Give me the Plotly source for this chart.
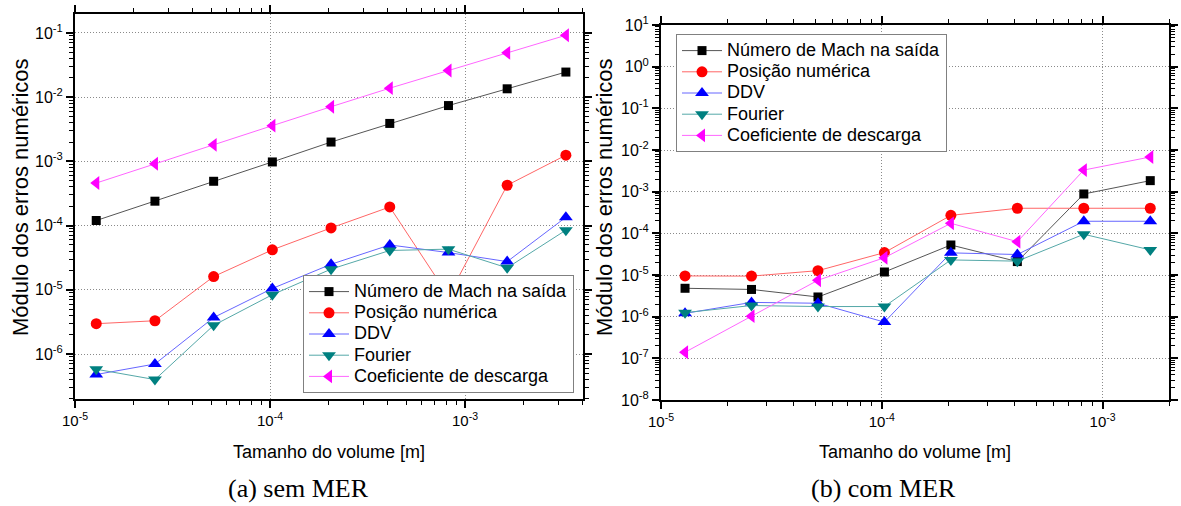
import plotly.graph_objects as go

# Tamanho do volume [m]
x_sem = [1.285e-5, 2.57e-5, 5.14e-5, 1.028e-4, 2.056e-4, 4.1125e-4, 8.225e-4, 1.645e-3, 3.29e-3]
x_com = [1.285e-5, 2.57e-5, 5.14e-5, 1.028e-4, 2.056e-4, 4.1125e-4, 8.225e-4, 1.645e-3]

# (a) sem MER
mach_sem = [1.2e-4, 2.4e-4, 4.9e-4, 9.8e-4, 2.0e-3, 3.9e-3, 7.4e-3, 1.35e-2, 2.46e-2]
pos_sem = [2.97e-6, 3.3e-6, 1.61e-5, 4.2e-5, 9.2e-5, 1.95e-4, 8.0e-6, 4.25e-4, 1.25e-3]
ddv_sem = [4.8e-7, 7.0e-7, 3.7e-6, 1.05e-5, 2.5e-5, 5.0e-5, 3.8e-5, 2.75e-5, 1.35e-4]
fourier_sem = [5.8e-7, 4.0e-7, 2.8e-6, 8.4e-6, 2.1e-5, 4.1e-5, 4.3e-5, 2.2e-5, 8.5e-5]
coef_sem = [4.6e-4, 9.2e-4, 1.81e-3, 3.6e-3, 7.1e-3, 1.38e-2, 2.6e-2, 4.9e-2, 9.2e-2]

# (b) com MER
mach_com = [4.8e-6, 4.5e-6, 2.97e-6, 1.18e-5, 5.25e-5, 2.1e-5, 8.8e-4, 1.84e-3]
pos_com = [9.5e-6, 9.4e-6, 1.27e-5, 3.45e-5, 2.7e-4, 4.0e-4, 4.0e-4, 4.0e-4]
ddv_com = [1.2e-6, 2.2e-6, 2.1e-6, 7.4e-7, 3.4e-5, 3.1e-5, 1.95e-4, 1.95e-4]
fourier_com = [1.25e-6, 1.85e-6, 1.75e-6, 1.75e-6, 2.3e-5, 2.15e-5, 9.5e-5, 4.0e-5]
coef_com = [1.4e-7, 1.03e-6, 7.5e-6, 2.6e-5, 1.74e-4, 6.3e-5, 3.3e-3, 6.8e-3]

names = ["Número de Mach na saída", "Posição numérica", "DDV", "Fourier", "Coeficiente de descarga"]
symbols = ["square", "circle", "triangle-up", "triangle-down", "triangle-left"]
marker_colors = ["#000000", "#ff0000", "#0000ff", "#008080", "#ff00ff"]
line_colors = ["#555555", "#ff6666", "#6666ff", "#55a8a8", "#ff66ff"]
marker_sizes = [9, 11, 12, 12, 12]

yticks_sem = [1e-6, 1e-5, 1e-4, 1e-3, 1e-2, 1e-1]
ytext_sem = ["10<sup>-6</sup>", "10<sup>-5</sup>", "10<sup>-4</sup>", "10<sup>-3</sup>", "10<sup>-2</sup>", "10<sup>-1</sup>"]
yticks_com = [1e-8, 1e-7, 1e-6, 1e-5, 1e-4, 1e-3, 1e-2, 1e-1, 1e0, 1e1]
ytext_com = ["10<sup>-8</sup>", "10<sup>-7</sup>", "10<sup>-6</sup>", "10<sup>-5</sup>", "10<sup>-4</sup>",
             "10<sup>-3</sup>", "10<sup>-2</sup>", "10<sup>-1</sup>", "10<sup>0</sup>", "10<sup>1</sup>"]
xticks = [1e-5, 1e-4, 1e-3]
xtext = ["10<sup>-5</sup>", "10<sup>-4</sup>", "10<sup>-3</sup>"]

W, H = 1181, 506
SANS = "Liberation Sans, Arial, sans-serif"
SERIF = "Liberation Serif, Times New Roman, serif"
LEGEND_TEXT = '<span style="font-size:18px">{}</span>'

fig = go.Figure()

series_sem = [mach_sem, pos_sem, ddv_sem, fourier_sem, coef_sem]
series_com = [mach_com, pos_com, ddv_com, fourier_com, coef_com]

for i, ys in enumerate(series_sem):
    fig.add_trace(go.Scatter(
        x=x_sem, y=ys, name=LEGEND_TEXT.format(names[i]), mode="lines+markers",
        xaxis="x", yaxis="y", legend="legend",
        line=dict(color=line_colors[i], width=1),
        marker=dict(symbol=symbols[i], color=marker_colors[i], size=marker_sizes[i], line=dict(width=0)),
    ))

for i, ys in enumerate(series_com):
    fig.add_trace(go.Scatter(
        x=x_com, y=ys, name=LEGEND_TEXT.format(names[i]), mode="lines+markers",
        xaxis="x2", yaxis="y2", legend="legend2",
        line=dict(color=line_colors[i], width=1),
        marker=dict(symbol=symbols[i], color=marker_colors[i], size=marker_sizes[i], line=dict(width=0)),
    ))


def log_axis(rng, domain, anchor, tickvals, ticktext, fontsize):
    return dict(
        type="log", range=rng, domain=domain, anchor=anchor, automargin=False,
        tickmode="array", tickvals=tickvals, ticktext=ticktext,
        showline=True, linecolor="black", linewidth=2, mirror="ticks",
        ticks="outside", ticklen=7, tickwidth=1.5, tickcolor="black",
        minor=dict(ticks="outside", ticklen=4, tickwidth=1, tickcolor="black", dtick="D1", showgrid=False),
        showgrid=True, gridcolor="#8a8a8a", gridwidth=1, griddash="1px,2px",
        zeroline=False,
        tickfont=dict(family=SANS, size=fontsize, color="black"),
    )


legend_common = dict(
    xanchor="left", yanchor="top",
    bgcolor="white", bordercolor="#808080", borderwidth=1,
    font=dict(family=SANS, size=14, color="black"), itemwidth=40, tracegroupgap=0,
)

fig.update_layout(
    width=W, height=H,
    margin=dict(l=0, r=0, t=0, b=0, autoexpand=False),
    paper_bgcolor="white", plot_bgcolor="white",
    xaxis=log_axis([-5, -2.395], [75 / W, 583 / W], "y", xticks, xtext, 15),
    yaxis=log_axis([-6.7, -0.705], [1 - 399 / H, 1 - 14 / H], "x", yticks_sem, ytext_sem, 16),
    xaxis2=log_axis([-5, -2.699], [661 / W, 1169 / W], "y2", xticks, xtext, 15),
    yaxis2=log_axis([-8, 1], [1 - 400 / H, 1 - 25 / H], "x2", yticks_com, ytext_com, 16),
    legend=dict(x=303 / W, y=1 - 275 / H, **legend_common),
    legend2=dict(x=676 / W, y=1 - 34 / H, **legend_common),
    showlegend=True,
)

annotations = [
    dict(text="Tamanho do volume [m]", x=329 / W, y=1 - 452 / H, font=dict(family=SANS, size=18)),
    dict(text="Tamanho do volume [m]", x=915 / W, y=1 - 452 / H, font=dict(family=SANS, size=18)),
    dict(text="Módulo dos erros numéricos", x=20 / W, y=1 - 197 / H, textangle=-90, font=dict(family=SANS, size=22)),
    dict(text="Módulo dos erros numéricos", x=604 / W, y=1 - 197 / H, textangle=-90, font=dict(family=SANS, size=22)),
    dict(text="(a) sem MER", x=298 / W, y=1 - 488 / H, font=dict(family=SERIF, size=26)),
    dict(text="(b) com MER", x=883 / W, y=1 - 488 / H, font=dict(family=SERIF, size=26)),
]
for a in annotations:
    a.update(xref="paper", yref="paper", showarrow=False, xanchor="center", yanchor="middle")
    a["font"]["color"] = "black"
fig.update_layout(annotations=annotations)

fig.write_html("out.html")
